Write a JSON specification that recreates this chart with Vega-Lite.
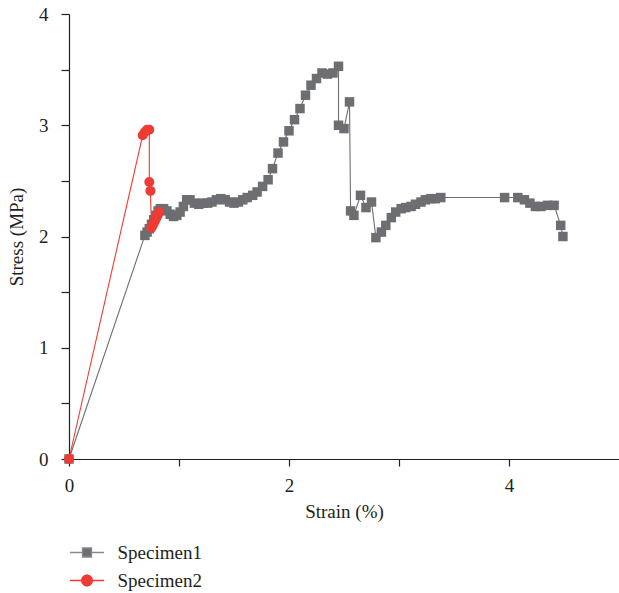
{
  "$schema": "https://vega.github.io/schema/vega-lite/v6.json",
  "width": 550,
  "height": 445,
  "autosize": {"type": "none"},
  "padding": {"left": 69, "top": 14, "right": 0, "bottom": 134},
  "background": "white",
  "config": {
    "view": {"stroke": null},
    "font": "Liberation Serif",
    "axis": {
      "grid": false,
      "domainColor": "#231f20",
      "tickColor": "#231f20",
      "labelColor": "#231f20",
      "titleColor": "#231f20",
      "labelFont": "Liberation Serif",
      "titleFont": "Liberation Serif",
      "labelFontSize": 19,
      "titleFontSize": 19,
      "titleFontWeight": "normal",
      "domainWidth": 1.2,
      "tickWidth": 1.2,
      "labelFlush": false
    },
    "legend": {
      "labelFont": "Liberation Serif",
      "labelFontSize": 19,
      "labelColor": "#231f20"
    }
  },
  "datasets": {
    "curves": [
      {"specimen": "Specimen1", "i": 0, "strain": 0, "stress": 0},
      {"specimen": "Specimen1", "i": 1, "strain": 0.69, "stress": 2.01},
      {"specimen": "Specimen1", "i": 2, "strain": 0.71, "stress": 2.04},
      {"specimen": "Specimen1", "i": 3, "strain": 0.73, "stress": 2.07},
      {"specimen": "Specimen1", "i": 4, "strain": 0.75, "stress": 2.11},
      {"specimen": "Specimen1", "i": 5, "strain": 0.77, "stress": 2.15},
      {"specimen": "Specimen1", "i": 6, "strain": 0.79, "stress": 2.19},
      {"specimen": "Specimen1", "i": 7, "strain": 0.81, "stress": 2.23},
      {"specimen": "Specimen1", "i": 8, "strain": 0.83, "stress": 2.25},
      {"specimen": "Specimen1", "i": 9, "strain": 0.86, "stress": 2.25},
      {"specimen": "Specimen1", "i": 10, "strain": 0.89, "stress": 2.23},
      {"specimen": "Specimen1", "i": 11, "strain": 0.92, "stress": 2.2},
      {"specimen": "Specimen1", "i": 12, "strain": 0.95, "stress": 2.18},
      {"specimen": "Specimen1", "i": 13, "strain": 0.98, "stress": 2.19},
      {"specimen": "Specimen1", "i": 14, "strain": 1.01, "stress": 2.22},
      {"specimen": "Specimen1", "i": 15, "strain": 1.04, "stress": 2.27},
      {"specimen": "Specimen1", "i": 16, "strain": 1.07, "stress": 2.33},
      {"specimen": "Specimen1", "i": 17, "strain": 1.1, "stress": 2.33},
      {"specimen": "Specimen1", "i": 18, "strain": 1.14, "stress": 2.3},
      {"specimen": "Specimen1", "i": 19, "strain": 1.18, "stress": 2.29},
      {"specimen": "Specimen1", "i": 20, "strain": 1.22, "stress": 2.3},
      {"specimen": "Specimen1", "i": 21, "strain": 1.26, "stress": 2.3},
      {"specimen": "Specimen1", "i": 22, "strain": 1.3, "stress": 2.31},
      {"specimen": "Specimen1", "i": 23, "strain": 1.34, "stress": 2.33},
      {"specimen": "Specimen1", "i": 24, "strain": 1.38, "stress": 2.34},
      {"specimen": "Specimen1", "i": 25, "strain": 1.42, "stress": 2.33},
      {"specimen": "Specimen1", "i": 26, "strain": 1.46, "stress": 2.31},
      {"specimen": "Specimen1", "i": 27, "strain": 1.5, "stress": 2.3},
      {"specimen": "Specimen1", "i": 28, "strain": 1.54, "stress": 2.31},
      {"specimen": "Specimen1", "i": 29, "strain": 1.58, "stress": 2.33},
      {"specimen": "Specimen1", "i": 30, "strain": 1.62, "stress": 2.35},
      {"specimen": "Specimen1", "i": 31, "strain": 1.67, "stress": 2.37},
      {"specimen": "Specimen1", "i": 32, "strain": 1.71, "stress": 2.4},
      {"specimen": "Specimen1", "i": 33, "strain": 1.76, "stress": 2.45},
      {"specimen": "Specimen1", "i": 34, "strain": 1.81, "stress": 2.51},
      {"specimen": "Specimen1", "i": 35, "strain": 1.85, "stress": 2.61},
      {"specimen": "Specimen1", "i": 36, "strain": 1.9, "stress": 2.75},
      {"specimen": "Specimen1", "i": 37, "strain": 1.95, "stress": 2.85},
      {"specimen": "Specimen1", "i": 38, "strain": 2.0, "stress": 2.95},
      {"specimen": "Specimen1", "i": 39, "strain": 2.05, "stress": 3.05},
      {"specimen": "Specimen1", "i": 40, "strain": 2.1, "stress": 3.15},
      {"specimen": "Specimen1", "i": 41, "strain": 2.15, "stress": 3.27},
      {"specimen": "Specimen1", "i": 42, "strain": 2.2, "stress": 3.36},
      {"specimen": "Specimen1", "i": 43, "strain": 2.25, "stress": 3.42},
      {"specimen": "Specimen1", "i": 44, "strain": 2.3, "stress": 3.47},
      {"specimen": "Specimen1", "i": 45, "strain": 2.35, "stress": 3.46},
      {"specimen": "Specimen1", "i": 46, "strain": 2.4, "stress": 3.47},
      {"specimen": "Specimen1", "i": 47, "strain": 2.45, "stress": 3.53},
      {"specimen": "Specimen1", "i": 48, "strain": 2.45, "stress": 3.0},
      {"specimen": "Specimen1", "i": 49, "strain": 2.5, "stress": 2.97},
      {"specimen": "Specimen1", "i": 50, "strain": 2.55, "stress": 3.21},
      {"specimen": "Specimen1", "i": 51, "strain": 2.56, "stress": 2.23},
      {"specimen": "Specimen1", "i": 52, "strain": 2.59, "stress": 2.19},
      {"specimen": "Specimen1", "i": 53, "strain": 2.65, "stress": 2.37},
      {"specimen": "Specimen1", "i": 54, "strain": 2.7, "stress": 2.26},
      {"specimen": "Specimen1", "i": 55, "strain": 2.75, "stress": 2.31},
      {"specimen": "Specimen1", "i": 56, "strain": 2.79, "stress": 1.99},
      {"specimen": "Specimen1", "i": 57, "strain": 2.84, "stress": 2.04},
      {"specimen": "Specimen1", "i": 58, "strain": 2.88, "stress": 2.1},
      {"specimen": "Specimen1", "i": 59, "strain": 2.93, "stress": 2.17},
      {"specimen": "Specimen1", "i": 60, "strain": 2.97, "stress": 2.22},
      {"specimen": "Specimen1", "i": 61, "strain": 3.02, "stress": 2.25},
      {"specimen": "Specimen1", "i": 62, "strain": 3.06, "stress": 2.26},
      {"specimen": "Specimen1", "i": 63, "strain": 3.11, "stress": 2.27},
      {"specimen": "Specimen1", "i": 64, "strain": 3.15, "stress": 2.29},
      {"specimen": "Specimen1", "i": 65, "strain": 3.2, "stress": 2.31},
      {"specimen": "Specimen1", "i": 66, "strain": 3.24, "stress": 2.33},
      {"specimen": "Specimen1", "i": 67, "strain": 3.29, "stress": 2.34},
      {"specimen": "Specimen1", "i": 68, "strain": 3.33, "stress": 2.34},
      {"specimen": "Specimen1", "i": 69, "strain": 3.38, "stress": 2.35},
      {"specimen": "Specimen1", "i": 70, "strain": 3.96, "stress": 2.35},
      {"specimen": "Specimen1", "i": 71, "strain": 4.08, "stress": 2.35},
      {"specimen": "Specimen1", "i": 72, "strain": 4.14, "stress": 2.33},
      {"specimen": "Specimen1", "i": 73, "strain": 4.19, "stress": 2.3},
      {"specimen": "Specimen1", "i": 74, "strain": 4.24, "stress": 2.27},
      {"specimen": "Specimen1", "i": 75, "strain": 4.29, "stress": 2.27},
      {"specimen": "Specimen1", "i": 76, "strain": 4.35, "stress": 2.28},
      {"specimen": "Specimen1", "i": 77, "strain": 4.41, "stress": 2.28},
      {"specimen": "Specimen1", "i": 78, "strain": 4.47, "stress": 2.1},
      {"specimen": "Specimen1", "i": 79, "strain": 4.49, "stress": 2.0},
      {"specimen": "Specimen2", "i": 100, "strain": 0, "stress": 0},
      {"specimen": "Specimen2", "i": 101, "strain": 0.67, "stress": 2.91},
      {"specimen": "Specimen2", "i": 102, "strain": 0.69, "stress": 2.94},
      {"specimen": "Specimen2", "i": 103, "strain": 0.71, "stress": 2.96},
      {"specimen": "Specimen2", "i": 104, "strain": 0.73, "stress": 2.96},
      {"specimen": "Specimen2", "i": 105, "strain": 0.73, "stress": 2.49},
      {"specimen": "Specimen2", "i": 106, "strain": 0.74, "stress": 2.41},
      {"specimen": "Specimen2", "i": 107, "strain": 0.75, "stress": 2.08},
      {"specimen": "Specimen2", "i": 108, "strain": 0.76, "stress": 2.1},
      {"specimen": "Specimen2", "i": 109, "strain": 0.77, "stress": 2.12},
      {"specimen": "Specimen2", "i": 110, "strain": 0.78, "stress": 2.14},
      {"specimen": "Specimen2", "i": 111, "strain": 0.79, "stress": 2.16},
      {"specimen": "Specimen2", "i": 112, "strain": 0.8, "stress": 2.18},
      {"specimen": "Specimen2", "i": 113, "strain": 0.81, "stress": 2.2},
      {"specimen": "Specimen2", "i": 114, "strain": 0.82, "stress": 2.22}
    ]
  },
  "data": {"name": "curves"},
  "encoding": {
    "x": {
      "field": "strain", "type": "quantitative",
      "scale": {"domain": [0, 5], "nice": false, "zero": false},
      "axis": {
        "title": "Strain (%)",
        "values": [0, 1, 2, 3, 4],
        "labelExpr": "datum.value % 2 === 0 ? format(datum.value, 'd') : ''",
        "tickSize": 7,
        "labelPadding": 10,
        "titlePadding": 7,
        "encode": {"ticks": {"update": {"y2": {"signal": "datum.value % 2 === 0 ? 7 : 4"}}}}
      }
    },
    "y": {
      "field": "stress", "type": "quantitative",
      "scale": {"domain": [0, 4], "nice": false},
      "axis": {
        "title": "Stress (MPa)",
        "values": [0, 0.5, 1, 1.5, 2, 2.5, 3, 3.5, 4],
        "labelExpr": "datum.value % 1 === 0 ? format(datum.value, 'd') : ''",
        "tickSize": 8,
        "labelPadding": 13,
        "titleX": -43,
        "encode": {"ticks": {"update": {"x2": {"signal": "datum.value % 1 === 0 ? -8 : -4"}}}}
      }
    }
  },
  "layer": [
    {
      "transform": [{"filter": "datum.specimen === 'Specimen1'"}],
      "mark": {"type": "line", "strokeWidth": 1.1, "color": "#6d6e71"},
      "encoding": {"order": {"field": "i", "type": "quantitative"}}
    },
    {
      "transform": [{"filter": "datum.specimen === 'Specimen2'"}],
      "mark": {"type": "line", "strokeWidth": 1.1, "color": "#ee3b33"},
      "encoding": {"order": {"field": "i", "type": "quantitative"}}
    },
    {
      "mark": {"type": "point", "filled": true, "size": 4, "opacity": 1, "strokeWidth": 1.3},
      "encoding": {
        "fill": {
          "field": "specimen", "type": "nominal",
          "scale": {"domain": ["Specimen1", "Specimen2"], "range": ["#6d6e71", "#ee3b33"]},
          "legend": {
            "orient": "none", "legendX": 6.5, "legendY": 527, "title": null,
            "symbolSize": 441, "labelOffset": 19, "rowPadding": 6,
            "symbolStrokeWidth": 1.3
          }
        },
        "stroke": {
          "field": "specimen", "type": "nominal",
          "scale": {"domain": ["Specimen1", "Specimen2"], "range": ["#8a8b8e", "#ee3b33"]},
          "legend": {
            "orient": "none", "legendX": 6.5, "legendY": 527, "title": null,
            "symbolSize": 441, "labelOffset": 19, "rowPadding": 6,
            "symbolStrokeWidth": 1.3
          }
        },
        "shape": {
          "field": "specimen", "type": "nominal",
          "scale": {"domain": ["Specimen1", "Specimen2"], "range": [
            "M-1.62,0L-0.43,0M0.43,0L1.62,0M-0.43,-0.43L0.43,-0.43L0.43,0.43L-0.43,0.43Z",
            "M-1.62,0L-0.52,0M0.52,0L1.62,0M0.52,0L0.45,0.26L0.26,0.45L0,0.52L-0.26,0.45L-0.45,0.26L-0.52,0L-0.45,-0.26L-0.26,-0.45L0,-0.52L0.26,-0.45L0.45,-0.26Z"
          ]},
          "legend": {
            "orient": "none", "legendX": 6.5, "legendY": 527, "title": null,
            "symbolSize": 441, "labelOffset": 19, "rowPadding": 6,
            "symbolStrokeWidth": 1.3
          }
        }
      }
    },
    {
      "transform": [{"filter": "datum.specimen === 'Specimen1'"}],
      "mark": {"type": "point", "filled": true, "opacity": 1, "shape": "square", "size": 90, "color": "#6d6e71"},
      "encoding": {}
    },
    {
      "transform": [{"filter": "datum.specimen === 'Specimen2'"}],
      "mark": {"type": "point", "filled": true, "opacity": 1, "shape": "circle", "size": 100, "color": "#ee3b33"},
      "encoding": {}
    }
  ]
}
